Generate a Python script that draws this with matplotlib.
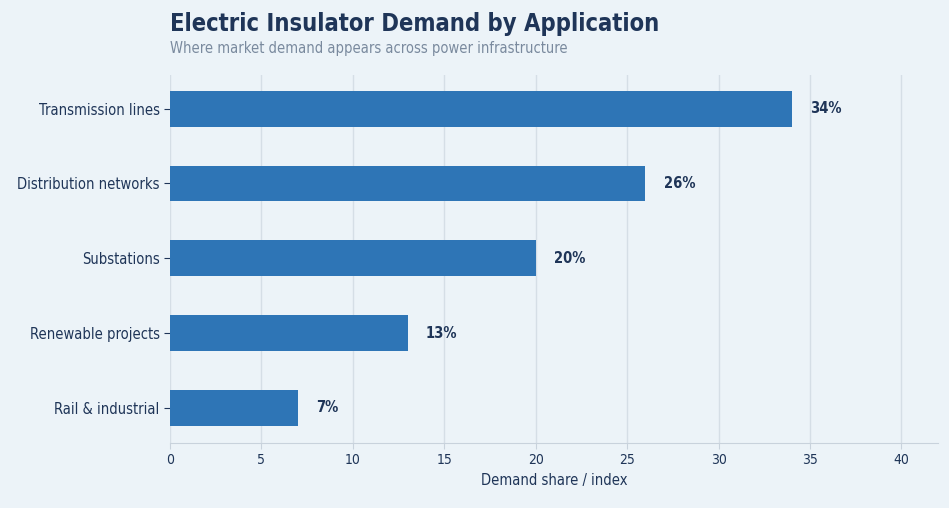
import matplotlib.pyplot as plt

# Data
categories = ["Transmission lines", "Distribution networks", "Substations",
              "Renewable projects", "Rail & industrial"]
values = [34, 26, 20, 13, 7]
labels = ["34%", "26%", "20%", "13%", "7%"]

bg = "#ecf3f8"
bar_color = "#2e75b6"
dark = "#1f3558"

plt.rcParams["font.family"] = ["DejaVu Sans"]
plt.rcParams["font.stretch"] = "condensed"

fig = plt.figure(figsize=(9.49, 5.08), dpi=100, facecolor=bg)
ax = fig.add_axes([170 / 949, 1 - 443 / 508, (938 - 170) / 949, (443 - 75) / 508])
ax.set_facecolor(bg)

y = list(range(len(categories)))
ax.barh(y, values, height=0.48, color=bar_color, zorder=3)
for yi, v, lab in zip(y, values, labels):
    ax.text(v + 1, yi, lab, va="center", ha="left", fontsize=10.5,
            fontweight="bold", color=dark)

ax.set_xlim(0, 42)
ax.set_ylim(4.47, -0.45)
ax.set_yticks(y)
ax.set_yticklabels(categories, fontsize=10.5, color=dark)
ax.set_xticks(range(0, 41, 5))
ax.tick_params(axis="x", labelsize=10, colors=dark, length=4, color="#c8d2dc")
ax.tick_params(axis="y", length=4, color=dark)
ax.grid(axis="x", color="#d5dee6", linewidth=1, zorder=0)
for s in ["top", "right", "left"]:
    ax.spines[s].set_visible(False)
ax.spines["bottom"].set_color("#c8d2dc")
ax.set_xlabel("Demand share / index", fontsize=10.5, color=dark)

fig.text(170 / 949, 1 - 24 / 508, "Electric Insulator Demand by Application",
         fontsize=17, fontweight="bold", color=dark, va="center")
fig.text(170 / 949, 1 - 49 / 508, "Where market demand appears across power infrastructure",
         fontsize=10.5, color="#7a8a9e", va="center")

fig.savefig("out.png", dpi=100, facecolor=bg)
